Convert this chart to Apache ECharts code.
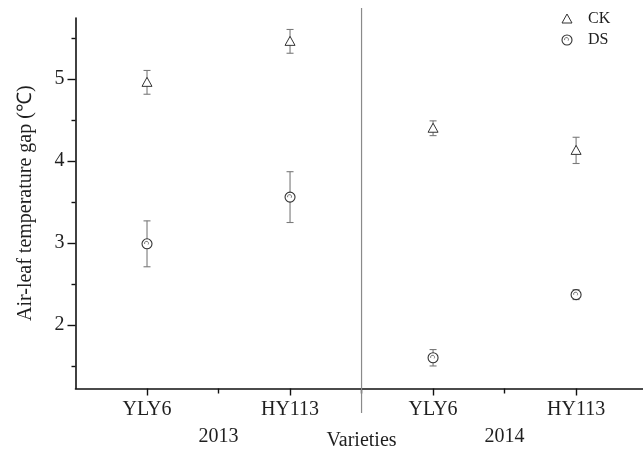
<!DOCTYPE html>
<html>
<head>
<meta charset="utf-8">
<script src="https://cdn.jsdelivr.net/npm/echarts@6/dist/echarts.min.js"></script>
<style>
  html, body { margin: 0; padding: 0; background: #fff; }
  #chart { width: 643px; height: 450px; }
</style>
</head>
<body>
<div id="chart"></div>
<script>
// Air-leaf temperature gap by variety and year (mean ± error)
const varieties = ['YLY6', 'HY113', 'YLY6', 'HY113'];
const years = ['2013', '2014'];
const seriesNames = ['CK', 'DS'];
const ckMean = [4.96, 5.46, 4.40, 4.13];
const ckErr = [0.145, 0.145, 0.09, 0.16];
const dsMean = [2.99, 3.56, 1.60, 2.37];
const dsErr = [0.28, 0.31, 0.10, 0.06];
const yMajorTicks = [2, 3, 4, 5];
const yMinorTicks = [1.5, 2.5, 3.5, 4.5, 5.5];
const xMajorTicks = [1, 2, 3, 4];
const xMinorTicks = [1.5, 2.5, 3.5, 4.5];

const FONT = '"Liberation Serif", "Times New Roman", serif';
const INK = '#1f1f1f';
const BAR = '#7a7a7a';

const chart = echarts.init(document.getElementById('chart'), null, { renderer: 'canvas' });

function rows(mean, err) {
  return mean.map((m, i) => [i + 1, m, err[i]]);
}

function triangleShape(cx, cy) {
  return {
    type: 'polygon',
    shape: { points: [[cx, cy - 5], [cx + 5, cy + 4], [cx - 5, cy + 4]] },
    style: { fill: '#fff', stroke: '#333', lineWidth: 1 }
  };
}

function circleShapes(cx, cy) {
  return [
    { type: 'circle', shape: { cx: cx, cy: cy, r: 5 }, style: { fill: '#fff', stroke: '#333', lineWidth: 1.1 } },
    { type: 'arc', shape: { cx: cx - 0.5, cy: cy - 0.5, r: 2, startAngle: Math.PI * 0.9, endAngle: Math.PI * 2.2 }, style: { fill: null, stroke: '#666', lineWidth: 0.9 } }
  ];
}

function renderErr(kind) {
  return function (params, api) {
    const x = api.value(0), m = api.value(1), e = api.value(2);
    const c = api.coord([x, m]);
    const t = api.coord([x, m + e]);
    const b = api.coord([x, m - e]);
    const cap = 3.5;
    const children = [
      { type: 'line', shape: { x1: c[0], y1: t[1], x2: c[0], y2: b[1] }, style: { stroke: BAR, lineWidth: 1.1 } },
      { type: 'line', shape: { x1: c[0] - cap, y1: t[1], x2: c[0] + cap, y2: t[1] }, style: { stroke: BAR, lineWidth: 1.1 } },
      { type: 'line', shape: { x1: c[0] - cap, y1: b[1], x2: c[0] + cap, y2: b[1] }, style: { stroke: BAR, lineWidth: 1.1 } }
    ];
    if (kind === 'tri') children.push(triangleShape(c[0], c[1]));
    else circleShapes(c[0], c[1]).forEach(s => children.push(s));
    return { type: 'group', children: children };
  };
}

const yBase = {
  type: 'value', min: 1.225, max: 5.745, position: 'left',
  splitLine: { show: false }
};
const xBase = {
  type: 'value', min: 0.5, max: 4.5, position: 'bottom',
  splitLine: { show: false }
};

chart.setOption({
  animation: false,
  backgroundColor: '#fff',
  grid: { left: 75.5, right: -4.6, top: 18, bottom: 61.5, containLabel: false, outerBoundsMode: 'none' },
  xAxis: [
    Object.assign({}, xBase, {
      axisLine: { show: true, lineStyle: { color: '#111', width: 1.6 } },
      axisTick: { show: true, length: 7, lineStyle: { color: '#111', width: 1.4 }, customValues: xMajorTicks },
      axisLabel: {
        show: true, customValues: xMajorTicks, margin: 11,
        fontFamily: FONT, fontSize: 20, color: INK,
        formatter: v => varieties[Math.round(v) - 1] || ''
      },
      name: 'Varieties', nameLocation: 'middle', nameGap: 42,
      nameTextStyle: { fontFamily: FONT, fontSize: 20, color: INK }
    }),
    Object.assign({}, xBase, {
      axisLine: { show: false, onZero: false },
      axisTick: { show: true, length: 5, lineStyle: { color: '#111', width: 1.4 }, customValues: xMinorTicks },
      axisLabel: { show: false }
    })
  ],
  yAxis: [
    Object.assign({}, yBase, {
      axisLine: { show: true, lineStyle: { color: '#111', width: 1.6 } },
      axisTick: { show: true, length: 8, lineStyle: { color: '#111', width: 1.4 }, customValues: yMajorTicks },
      axisLabel: {
        show: true, customValues: yMajorTicks, margin: 11,
        fontFamily: FONT, fontSize: 20, color: INK
      },
      name: 'Air-leaf temperature gap (℃)', nameLocation: 'middle', nameGap: 40, nameRotate: 90,
      nameTextStyle: { fontFamily: FONT, fontSize: 20, color: INK }
    }),
    Object.assign({}, yBase, {
      axisLine: { show: false, onZero: false },
      axisTick: { show: true, length: 4, lineStyle: { color: '#111', width: 1.4 }, customValues: yMinorTicks },
      axisLabel: { show: false }
    })
  ],
  series: [
    { name: seriesNames[0], type: 'custom', renderItem: renderErr('tri'), data: rows(ckMean, ckErr), clip: false, z: 5 },
    { name: seriesNames[1], type: 'custom', renderItem: renderErr('circ'), data: rows(dsMean, dsErr), clip: false, z: 5 }
  ]
});

// Year divider, year captions and marker key
const midX = chart.convertToPixel({ xAxisIndex: 0 }, 2.5);
const y2013 = chart.convertToPixel({ xAxisIndex: 0 }, 1.5);
const y2014 = chart.convertToPixel({ xAxisIndex: 0 }, 3.5);
const keyX = 567, keyY = [19, 40];
const keyElems = [];
const tri = triangleShape(keyX, keyY[0]);
keyElems.push(Object.assign({}, tri, { z: 10 }));
circleShapes(keyX, keyY[1]).forEach(s => keyElems.push(Object.assign({}, s, { z: 10 })));
seriesNames.forEach((n, i) => keyElems.push({
  type: 'text', x: 588, y: keyY[i], z: 10,
  style: { text: n, fontFamily: FONT, fontSize: 16, fill: INK, align: 'left', verticalAlign: 'middle' }
}));

chart.setOption({
  graphic: [
    { type: 'line', shape: { x1: midX, y1: 8, x2: midX, y2: 413 }, style: { stroke: '#8a8a8a', lineWidth: 1.2 }, z: 1 },
    { type: 'text', x: y2013, y: 437, style: { text: years[0], fontFamily: FONT, fontSize: 20, fill: INK, align: 'center', verticalAlign: 'middle' } },
    { type: 'text', x: y2014, y: 437, style: { text: years[1], fontFamily: FONT, fontSize: 20, fill: INK, align: 'center', verticalAlign: 'middle' } }
  ].concat(keyElems)
});
</script>
</body>
</html>
